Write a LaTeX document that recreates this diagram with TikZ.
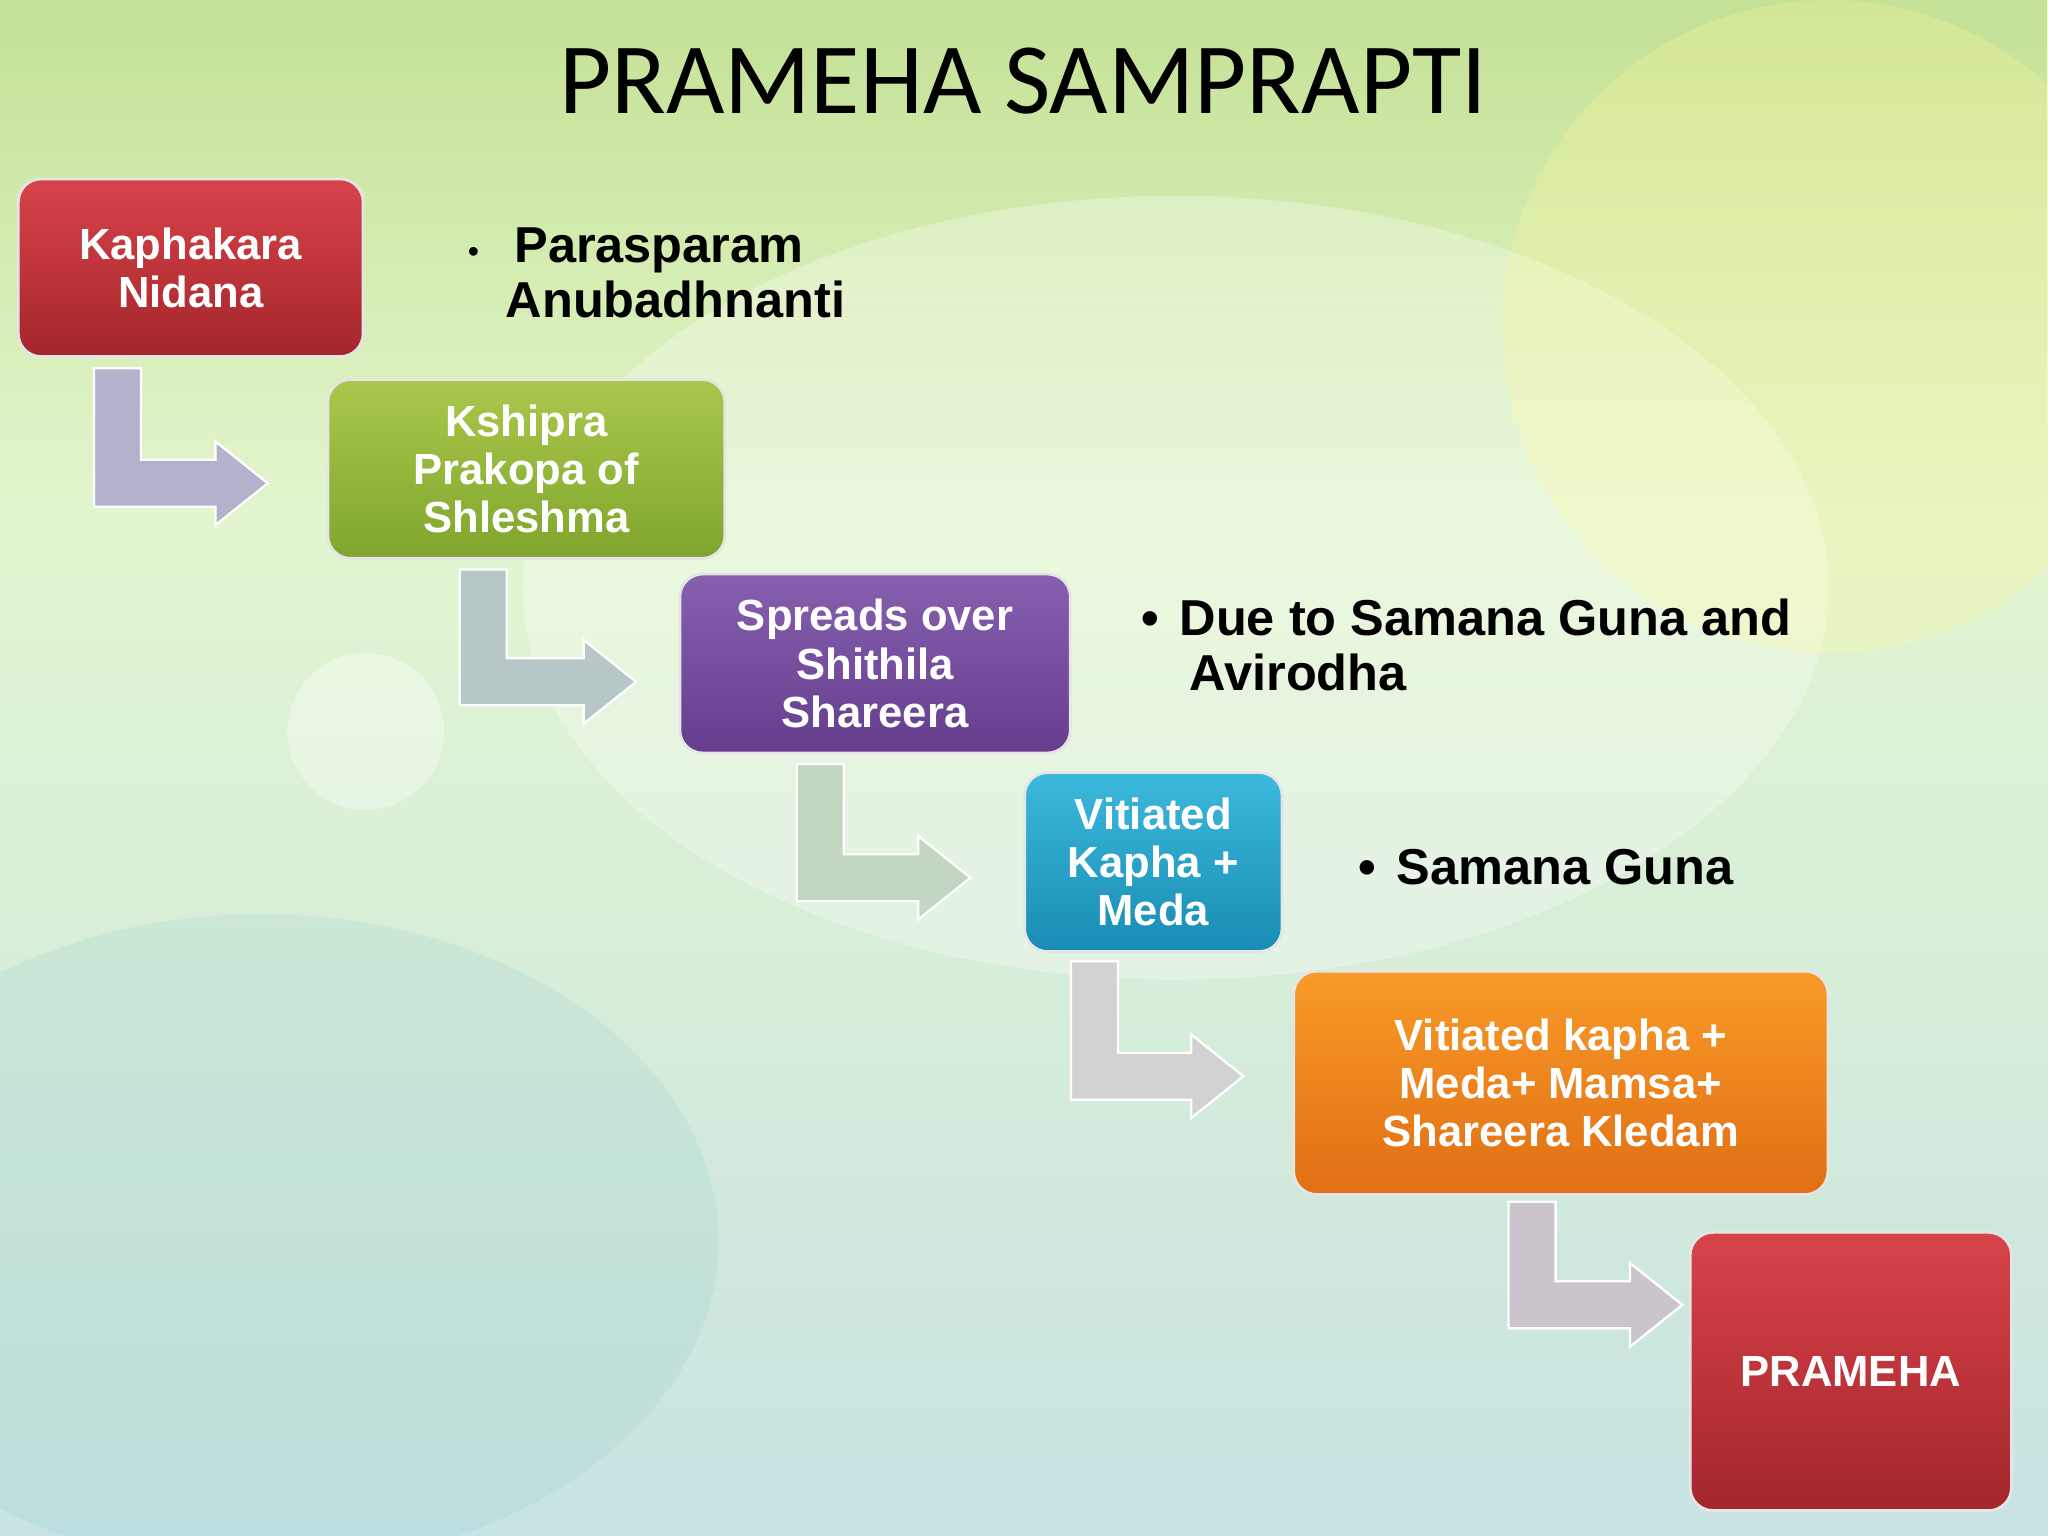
\documentclass[tikz,border=0pt]{standalone}
\usepackage{fontspec}
\usetikzlibrary{fadings}
\setmainfont{Liberation Sans}
\newfontfamily\titlefont{Carlito}
\begin{document}
\begin{tikzpicture}[x=0.02cm,y=-0.02cm,
  box/.style={rounded corners=0.35cm,draw=white!80!gray,line width=1.2pt,align=center,
    text=white,font=\bfseries\fontsize{19}{21}\selectfont,inner sep=0pt},
  bul/.style={anchor=north west,align=left,font=\bfseries\fontsize{22}{24}\selectfont}]
\useasboundingbox (0,0) rectangle (1568,1176);
\shade[top color=green!25!yellow!22!white,bottom color=teal!22!white] (0,0) rectangle (1568,1176);
\fill[olive!45!green!60!white,path fading=south,opacity=0.5] (0,0) rectangle (1568,400);
\fill[white,opacity=0.3] (900,450) ellipse (500 and 300);
\fill[teal!40,opacity=0.2] (200,950) ellipse (350 and 250);
\fill[yellow!40,opacity=0.25] (1400,250) ellipse (250 and 250);
\fill[white,opacity=0.35] (280,560) circle (60);
\node[font=\titlefont\fontsize{44}{48}\selectfont] (title) at (783,62) {PRAMEHA SAMPRAPTI};
\newcommand{\bentarrow}[5]{%
  \fill[#5,draw=white,line width=1pt] (#1,#2) -- (#1+36,#2) -- (#1+36,#3-36) -- (#4-40,#3-36) -- (#4-40,#3-50)
   -- (#4,#3-18) -- (#4-40,#3+14) -- (#4-40,#3) -- (#1,#3) -- cycle;}
\bentarrow{72}{282}{388}{205}{blue!20!gray!50!white}
\bentarrow{352}{436}{540}{487}{teal!25!gray!45!white}
\bentarrow{610}{585}{690}{743}{green!20!gray!40!white}
\bentarrow{820}{736}{842}{952}{gray!35!white}
\bentarrow{1155}{920}{1017}{1288}{violet!15!gray!40!white}
\definecolor{rt}{HTML}{D8434A}\definecolor{rb}{HTML}{A3262B}
\node[box,top color=rt,bottom color=rb,minimum width=5.28cm,minimum height=2.72cm] (b1) at (146,205) {Kaphakara\\Nidana};
\node[box,top color={rgb,255:red,170;green,200;blue,75},bottom color={rgb,255:red,128;green,165;blue,45},minimum width=6.08cm,minimum height=2.74cm] (b2) at (403,359) {Kshipra\\Prakopa of\\Shleshma};
\node[box,top color={rgb,255:red,135;green,95;blue,175},bottom color={rgb,255:red,100;green,62;blue,140},minimum width=5.98cm,minimum height=2.74cm] (b3) at (670,508) {Spreads over\\Shithila\\Shareera};
\node[box,top color={rgb,255:red,60;green,185;blue,220},bottom color={rgb,255:red,25;green,140;blue,180},minimum width=3.94cm,minimum height=2.74cm] (b4) at (883,660) {Vitiated\\Kapha +\\Meda};
\node[box,top color={rgb,255:red,248;green,155;blue,40},bottom color={rgb,255:red,225;green,110;blue,20},minimum width=8.18cm,minimum height=3.42cm] (b5) at (1195,829) {Vitiated kapha +\\Meda+ Mamsa+\\Shareera Kledam};
\node[box,top color=rt,bottom color=rb,minimum width=4.92cm,minimum height=4.26cm] (b6) at (1417,1050) {PRAMEHA};
\node[bul] (t1) at (352,168) {{\normalfont\fontsize{14}{16}\selectfont\textbullet}\hspace{0.7em}Parasparam\\\hspace{0.75em}Anubadhnanti};
\node[bul] (t2) at (868,452) {\textbullet\hspace{0.4em}Due to Samana Guna and\\\hspace{0.95em}Avirodha};
\node[bul] (t3) at (1034,644) {\textbullet\hspace{0.4em}Samana Guna};
\end{tikzpicture}
\end{document}
